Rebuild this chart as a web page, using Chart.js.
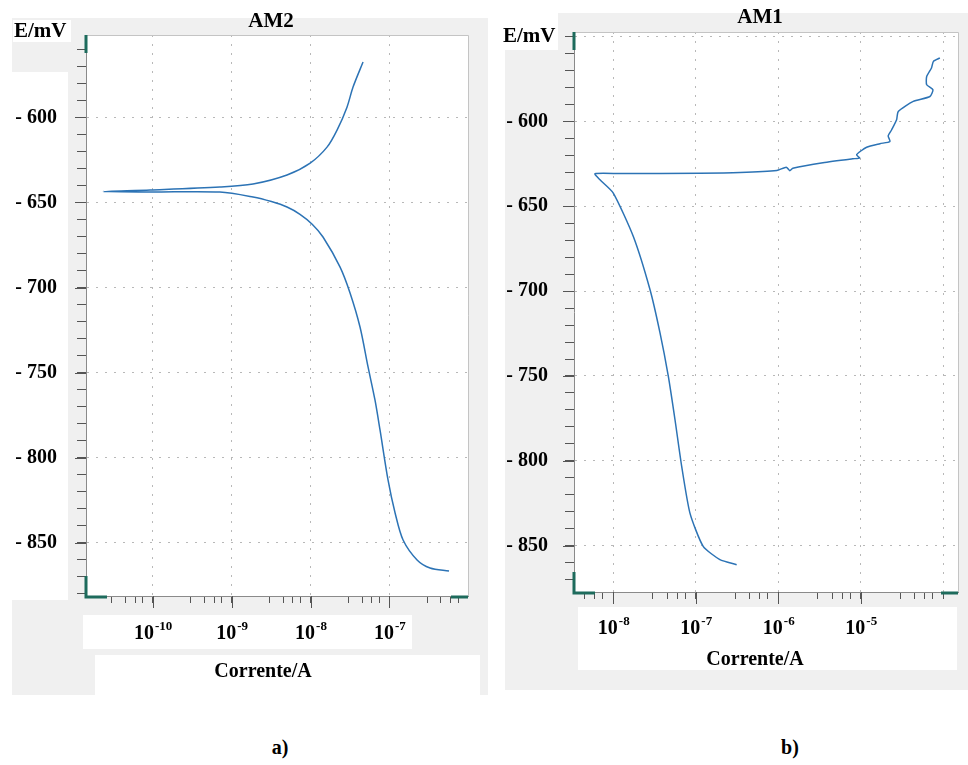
<!DOCTYPE html>
<html>
<head>
<meta charset="utf-8">
<script src="https://cdn.jsdelivr.net/npm/chart.js@4.4.1/dist/chart.umd.min.js"></script>
<style>
body { margin: 0; background: #fff; width: 968px; height: 765px; position: relative; overflow: hidden; font-family: 'Liberation Serif', 'DejaVu Serif', serif; }
.bg { position: absolute; }
.gray { background: #f0f0f0; }
.white { background: #fff; }
.box { position: absolute; }
.cap { position: absolute; font-weight: bold; font-size: 20px; transform: translate(-50%, -50%); }
</style>
</head>
<body>
<div class="bg gray" style="left:12px;top:18px;width:476px;height:677px"></div>
<div class="bg white" style="left:13px;top:20px;width:58px;height:22px"></div>
<div class="bg white" style="left:12px;top:72px;width:56px;height:528px"></div>
<div class="bg white" style="left:83px;top:615px;width:329px;height:34px"></div>
<div class="bg white" style="left:95px;top:655px;width:385px;height:40px"></div>
<div class="bg gray" style="left:505px;top:13px;width:463px;height:677px"></div>
<div class="bg white" style="left:490px;top:0;width:68px;height:50px"></div>
<div class="bg white" style="left:578px;top:607px;width:379px;height:63px"></div>

<div class="box" style="left:0;top:0;width:490px;height:700px"><canvas id="am2"></canvas></div>
<div class="box" style="left:490px;top:0;width:478px;height:700px"><canvas id="am1"></canvas></div>

<div class="cap" style="left:280px;top:747px">a)</div>
<div class="cap" style="left:790px;top:747px">b)</div>

<script>
// AM2 - varrimento catódico -> anódico (corrente em A, potencial em mV)
const am2Current = [5.69e-7, 3.27e-7, 2.24e-7, 1.49e-7, 1.18e-7, 9.6e-8, 7.6e-8, 6.56e-8, 5.36e-8, 4.24e-8,
    3.17e-8, 2.37e-8, 1.44e-8, 1.05e-8, 7.36e-9, 5.04e-9, 3.2e-9, 1.87e-9, 7.1e-10, 9.3e-11, 2.35e-11,
    9.3e-11, 7.1e-10, 1.87e-9, 5.04e-9, 9.9e-9, 1.62e-8, 2.17e-8, 2.9e-8, 3.46e-8, 4.63e-8];
const am2Potential = [-866.6, -864.8, -860.1, -848.4, -832.5, -813.1, -783.7, -766.1, -746.7, -723.2,
    -703.2, -688.0, -670.3, -662.8, -657.0, -652.7, -649.5, -646.8, -643.9, -643.9, -643.6,
    -642.7, -641.0, -639.2, -633.9, -626.9, -617.5, -607.5, -594.0, -582.2, -567.5];

// AM1
const am1Current = [3.13e-7, 1.96e-7, 1.23e-7, 8.5e-8, 6.75e-8, 5.6e-8, 4.65e-8, 3.68e-8, 2.79e-8, 1.75e-8,
    1.0e-8, 6.9e-9, 6.0e-9, 1.2e-8, 1.12e-7, 3.44e-7, 9.6e-7, 1.25e-6, 1.38e-6, 1.5e-6,
    3.48e-6, 8.0e-6, 9.7e-6, 8.9e-6, 1.18e-5, 1.71e-5, 2.26e-5, 2.15e-5, 2.37e-5, 2.72e-5,
    2.85e-5, 4.33e-5, 6.9e-5, 7.5e-5, 6.3e-5, 6.3e-5, 7.2e-5, 7.6e-5, 9.1e-5];
const am1Potential = [-861.2, -858.2, -850.4, -830.8, -803.3, -775.8, -750.3, -724.5, -699.2, -667.8,
    -642.2, -634.4, -630.8, -630.7, -630.5, -630.1, -628.9, -627.0, -629.0, -627.6,
    -624.3, -622.0, -621.6, -619.6, -615.2, -613.1, -611.8, -608.5, -604.9, -599.0,
    -594.1, -588.2, -585.3, -581.3, -578.4, -573.5, -568.5, -564.6, -562.6];

const am2Decades = [-10, -9, -8, -7];
const am1Decades = [-8, -7, -6, -5];
const yLabels = [-600, -650, -700, -750, -800, -850];
const minorSteps = [1, 3, 4.5, 6, 7.5];

const lineColor = '#2c73b5';
const gridColor = '#b8b8b8';
const cursorColor = '#1d6b5c';
const none = 'rgba(0,0,0,0)';

Chart.defaults.font.family = "'Liberation Serif', 'DejaVu Serif', serif";

function isDecade(v) {
    const l = Math.log10(v);
    return Math.abs(l - Math.round(l)) < 1e-6;
}

function logTicks(min, max) {
    const ticks = [];
    for (let n = Math.floor(Math.log10(min)); n <= Math.ceil(Math.log10(max)); n++) {
        minorSteps.forEach(m => {
            const v = m * Math.pow(10, n);
            if (v >= min && v <= max) ticks.push({ value: v });
        });
    }
    return ticks;
}

function linTicks(min, max) {
    const ticks = [];
    for (let v = Math.ceil(min / 10) * 10; v <= max; v += 10) ticks.push({ value: v });
    return ticks;
}

const decor = {
    id: 'decor',
    beforeDraw(chart) {
        const { ctx, chartArea: a } = chart;
        ctx.save();
        ctx.fillStyle = '#fff';
        ctx.fillRect(a.left, a.top, a.right - a.left, a.bottom - a.top);
        ctx.restore();
    },
    afterDraw(chart, args, o) {
        const { ctx, chartArea: a } = chart;
        const xs = chart.scales.x, ys = chart.scales.y;
        ctx.save();
        // moldura
        ctx.strokeStyle = '#c4c4c4';
        ctx.lineWidth = 1;
        ctx.beginPath();
        ctx.moveTo(a.left, a.top + 0.5);
        ctx.lineTo(a.right + 0.5, a.top + 0.5);
        ctx.lineTo(a.right + 0.5, a.bottom);
        ctx.stroke();

        // traços maiores nas décadas e a cada 50 mV
        ctx.strokeStyle = '#555';
        ctx.beginPath();
        o.decades.forEach(e => {
            const px = Math.round(xs.getPixelForValue(Math.pow(10, e))) + 0.5;
            ctx.moveTo(px, a.bottom);
            ctx.lineTo(px, a.bottom + 12);
        });
        yLabels.forEach(v => {
            const py = Math.round(ys.getPixelForValue(v)) + 0.5;
            ctx.moveTo(a.left, py);
            ctx.lineTo(a.left - 11, py);
        });
        ctx.stroke();

        // rótulos 10^n
        ctx.fillStyle = '#000';
        ctx.textBaseline = 'alphabetic';
        ctx.textAlign = 'left';
        o.decades.forEach(e => {
            const px = xs.getPixelForValue(Math.pow(10, e));
            ctx.font = "bold 20px 'Liberation Serif', serif";
            const w1 = ctx.measureText('10').width;
            ctx.font = "bold 13px 'Liberation Serif', serif";
            const w2 = ctx.measureText(String(e)).width;
            const x0 = px - (w1 + w2) / 2;
            const base = a.bottom + o.labelOffset;
            ctx.font = "bold 20px 'Liberation Serif', serif";
            ctx.fillText('10', x0, base);
            ctx.font = "bold 13px 'Liberation Serif', serif";
            ctx.fillText(String(e), x0 + w1 + 1, base - 9);
        });

        // títulos
        ctx.textBaseline = 'middle';
        ctx.font = "bold 21px 'Liberation Serif', serif";
        ctx.textAlign = 'center';
        ctx.fillText(o.title, o.titleX, o.titleY);
        ctx.textAlign = 'left';
        ctx.fillText('E/mV', o.eX, o.eY);
        ctx.textAlign = 'center';
        ctx.font = "bold 20px 'Liberation Serif', serif";
        ctx.fillText('Corrente/A', o.xLabelX, o.xLabelY);

        // cursores verdes
        ctx.strokeStyle = cursorColor;
        ctx.lineWidth = 3;
        ctx.beginPath();
        ctx.moveTo(a.left, a.top);
        ctx.lineTo(a.left, a.top + 18);
        ctx.moveTo(a.left, a.bottom - 20);
        ctx.lineTo(a.left, a.bottom + 1);
        ctx.lineTo(a.left + 21, a.bottom + 1);
        ctx.moveTo(a.right - 17, a.bottom + 1);
        ctx.lineTo(a.right, a.bottom + 1);
        ctx.stroke();
        ctx.restore();
    }
};

function makeChart(id, cfg) {
    return new Chart(document.getElementById(id), {
        type: 'scatter',
        data: {
            datasets: [{
                data: cfg.current.map((c, i) => ({ x: c, y: cfg.potential[i] })),
                showLine: true,
                borderColor: lineColor,
                borderWidth: 1.5,
                pointRadius: 0,
                tension: cfg.tension
            }]
        },
        options: {
            responsive: true,
            maintainAspectRatio: false,
            animation: false,
            layout: { padding: cfg.padding },
            plugins: {
                legend: { display: false },
                tooltip: { enabled: false },
                decor: cfg.decor
            },
            scales: {
                x: {
                    type: 'logarithmic',
                    min: cfg.xMin,
                    max: cfg.xMax,
                    afterBuildTicks: s => { s.ticks = logTicks(cfg.xMin, cfg.xMax); },
                    afterFit: s => { s.height = 60; },
                    ticks: { autoSkip: false, callback: () => '' },
                    grid: {
                        color: c => (c.tick && isDecade(c.tick.value)) ? gridColor : none,
                        tickColor: '#555',
                        tickLength: 7
                    },
                    border: { color: '#8a8a8a', dash: [2, 7] }
                },
                y: {
                    min: cfg.yMin,
                    max: cfg.yMax,
                    afterBuildTicks: s => { s.ticks = linTicks(cfg.yMin, cfg.yMax); },
                    afterFit: s => { s.width = cfg.yWidth; },
                    ticks: {
                        autoSkip: false,
                        padding: cfg.yPad,
                        color: '#000',
                        font: { size: 20, weight: 'bold' },
                        callback: v => yLabels.includes(v) ? '- ' + Math.abs(v) : ''
                    },
                    grid: {
                        color: c => (c.tick && c.tick.value % 50 === 0) ? gridColor : none,
                        tickColor: '#555',
                        tickLength: 9
                    },
                    border: { color: '#8a8a8a', dash: [2, 7] }
                }
            }
        },
        plugins: [decor]
    });
}

makeChart('am2', {
    current: am2Current, potential: am2Potential, tension: 0.3,
    xMin: 1.43e-11, xMax: 9.9e-7, yMin: -881.3, yMax: -551.6,
    padding: { left: 0, top: 35, right: 22, bottom: 44 },
    yWidth: 86, yPad: 20,
    decor: { decades: am2Decades, labelOffset: 43, title: 'AM2', titleX: 271, titleY: 22,
             eX: 14, eY: 32, xLabelX: 263, xLabelY: 672 }
});

makeChart('am1', {
    current: am1Current, potential: am1Potential, tension: 0.2,
    xMin: 3.34e-9, xMax: 1.51e-4, yMin: -877.3, yMax: -547.3,
    padding: { left: 0, top: 32, right: 10, bottom: 48 },
    yWidth: 84, yPad: 17,
    decor: { decades: am1Decades, labelOffset: 42, title: 'AM1', titleX: 270, titleY: 18,
             eX: 13, eY: 37, xLabelX: 265, xLabelY: 660 }
});
</script>
</body>
</html>
